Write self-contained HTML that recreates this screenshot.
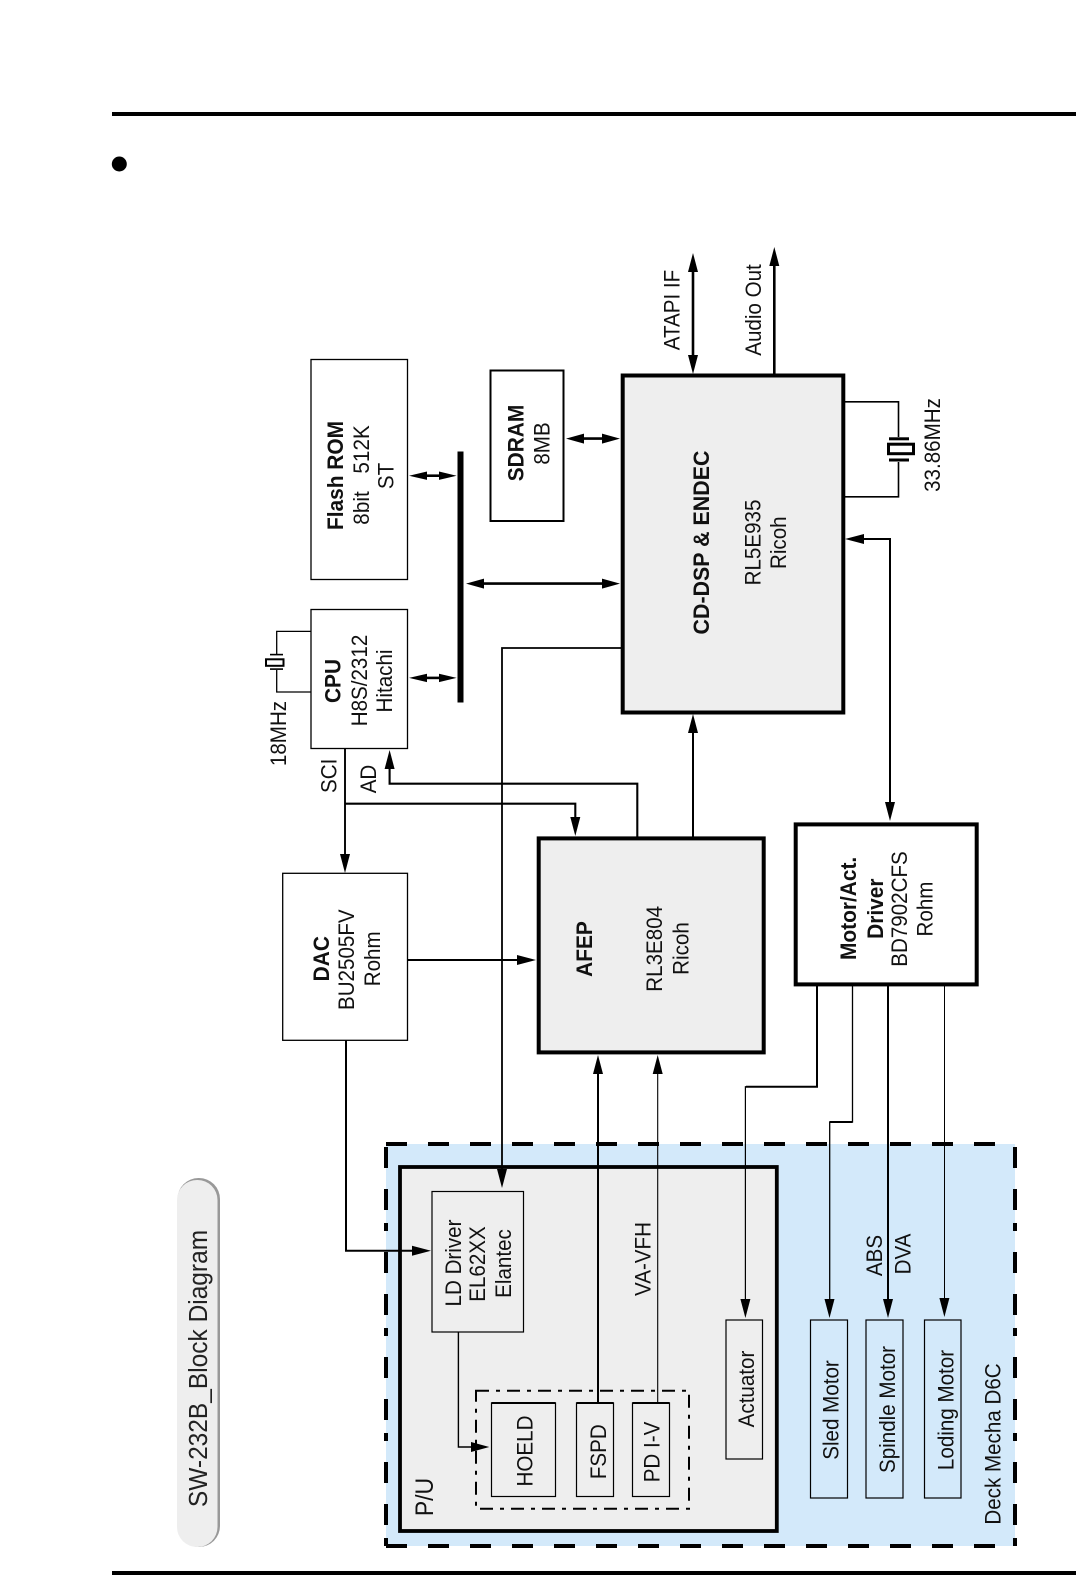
<!DOCTYPE html>
<html><head><meta charset="utf-8"><style>
html,body{margin:0;padding:0;background:#fff;width:1076px;height:1575px;overflow:hidden}
svg{display:block}
text{font-family:"Liberation Sans",sans-serif;font-size:20.6px;fill:#111;text-anchor:middle}
.b{font-weight:bold;font-size:20.9px}
</style></head><body>
<svg width="1076" height="1575" viewBox="0 0 1076 1575" xmlns="http://www.w3.org/2000/svg">
<rect x="112" y="112" width="964" height="4" fill="#000"/>
<rect x="112" y="1571" width="964" height="4" fill="#000"/>
<circle cx="119.3" cy="164" r="7.5" fill="#000"/>

<!-- title pill -->
<rect x="177.5" y="1178" width="42.5" height="369" rx="21" fill="#999"/>
<rect x="177" y="1180" width="40.5" height="367" rx="20" fill="#eee"/>
<text transform="translate(207,1368.5) rotate(-90) scale(1,1.06)" style="font-size:24.5px;fill:#222">SW-232B_Block Diagram</text>

<!-- deck mecha -->
<rect x="386" y="1144" width="629" height="402" fill="#d3e9fa"/>
<g fill="none" stroke="#000" stroke-width="4">
<path d="M386 1546H1015" stroke-dasharray="21 21"/>
<path d="M386 1144H1015" stroke-dasharray="21 21"/>
<path d="M386 1546V1144" stroke-dasharray="8 13 21 21 21 21"/>
<path d="M1015 1546V1144" stroke-dasharray="8 13 21 21 21 21"/>
</g>
<!-- P/U -->
<rect x="400" y="1167" width="376.8" height="364" fill="#eee" stroke="#000" stroke-width="3.8"/>
<path d="M476 1390.7H689V1508.7H476Z" fill="none" stroke="#000" stroke-width="2" stroke-dasharray="13 7 4 7"/>

<!-- boxes -->
<g stroke="#000" stroke-width="1.3" fill="#fff">
<rect x="311" y="359.5" width="96.5" height="220"/>
<rect x="311" y="609.5" width="96.5" height="139"/>
<rect x="282.7" y="873.3" width="124.8" height="167"/>
</g>
<rect x="490.5" y="370.5" width="73" height="150.5" fill="#fff" stroke="#000" stroke-width="2"/>
<rect x="622.7" y="375.5" width="220.6" height="337" fill="#eee" stroke="#000" stroke-width="4"/>
<rect x="538.7" y="838.4" width="225" height="214" fill="#eee" stroke="#000" stroke-width="4"/>
<rect x="795.7" y="824.4" width="181" height="160" fill="#fff" stroke="#000" stroke-width="4"/>
<g stroke="#000" stroke-width="1.2" fill="#eee">
<rect x="432" y="1191.5" width="91.5" height="140.5"/>
<rect x="491.5" y="1403" width="64" height="93.5"/>
<rect x="576.5" y="1403" width="37" height="93.5"/>
<rect x="632.5" y="1403" width="37" height="93.5"/>
<rect x="726" y="1320" width="36.5" height="139"/>
</g>
<g stroke="#000" stroke-width="1.2" fill="#d3e9fa">
<rect x="810.5" y="1320" width="37" height="178"/>
<rect x="866" y="1320" width="37" height="178"/>
<rect x="924.5" y="1320" width="36.5" height="178"/>
</g>
<path d="M491.5 1403H555.5M576.5 1403H613.5M632.5 1403H669.5" stroke="#000" stroke-width="2" fill="none"/>

<!-- bus -->
<rect x="457.5" y="451.5" width="6" height="251" fill="#000"/>

<!-- connectors -->
<g fill="none" stroke="#000">
<path d="M693 262V366" stroke-width="2.6"/>
<path d="M774.3 262V374" stroke-width="2.6"/>
<path d="M845 401.8H898.5V437M898.5 462V496.8H845" stroke-width="1.6"/>
<path d="M584 438.6H602" stroke-width="2.6"/>
<path d="M426 475.7H440" stroke-width="2.6"/>
<path d="M426 677.9H440" stroke-width="2.6"/>
<path d="M484 583.6H603" stroke-width="2.6"/>
<path d="M890 557V539H860" stroke-width="2"/>
<path d="M890 539V805" stroke-width="2"/>
<path d="M621 648H502V1172" stroke-width="1.8"/>
<path d="M311 631.4H276.7V654M276.7 670V692H311" stroke-width="1.3"/>
<path d="M345 748V858" stroke-width="1.9"/>
<path d="M345 803.7H575.3V822" stroke-width="2.1"/>
<path d="M637.3 837V783.7H389.6V765" stroke-width="2.1"/>
<path d="M693 837V730" stroke-width="2"/>
<path d="M407.5 960H522" stroke-width="2.1"/>
<path d="M346 1040V1250.7H415" stroke-width="2"/>
<path d="M598 1403V1072" stroke-width="2"/>
<path d="M657.7 1403V1072" stroke-width="1.1"/>
<path d="M817 985V1086.7H745.4V1302" stroke-width="1.2"/>
<path d="M817 985V1086.7H746" stroke-width="2"/>
<path d="M852.5 985V1122H829.7V1302" stroke-width="1.3"/>
<path d="M852.5 1122H829.7" stroke-width="2"/>
<path d="M888 985V1302" stroke-width="2"/>
<path d="M944.5 985V1302" stroke-width="1"/>
<path d="M458.4 1332V1447H473" stroke-width="1.4"/>
</g>

<!-- arrowheads -->
<g fill="#000">
<polygon points="693,253 688,272 698,272"/><polygon points="693,374 688,355 698,355"/>
<polygon points="774.3,247 769.3,266 779.3,266"/>
<polygon points="566,438.6 584,433.6 584,443.6"/><polygon points="620,438.6 602,433.6 602,443.6"/>
<polygon points="409,475.7 427,471.5 427,479.9"/><polygon points="456.6,475.7 439,471.5 439,479.9"/>
<polygon points="409,677.9 427,673.7 427,682.1"/><polygon points="456.6,677.9 439,673.7 439,682.1"/>
<polygon points="466,583.6 484,578.6 484,588.6"/><polygon points="620,583.6 602,578.6 602,588.6"/>
<polygon points="845,539 864,534 864,544"/>
<polygon points="890,821 885,802 895,802"/>
<polygon points="502,1188 497,1169 507,1169"/>
<polygon points="345,873 340,854 350,854"/>
<polygon points="575.3,836 570.3,817 580.3,817"/>
<polygon points="389.6,750 384.6,769 394.6,769"/>
<polygon points="693,714 688,733 698,733"/>
<polygon points="536,960 517,955 517,965"/>
<polygon points="431,1250.7 412,1245.7 412,1255.7"/>
<polygon points="598,1055 593,1074 603,1074"/>
<polygon points="657.7,1055 652.7,1074 662.7,1074"/>
<polygon points="745.4,1318 740.4,1299 750.4,1299"/>
<polygon points="829.5,1318 824.5,1299 834.5,1299"/>
<polygon points="888,1318 883,1299 893,1299"/>
<polygon points="944.4,1317 939.4,1298 949.4,1298"/>
<polygon points="489.3,1447 471,1442 471,1452"/>
</g>

<!-- crystals -->
<g fill="#000">
<rect x="889" y="437.3" width="20" height="3"/><rect x="889" y="458.5" width="20" height="3"/>
<rect x="270" y="653.8" width="13" height="1.6"/><rect x="270" y="668.3" width="13" height="1.6"/>
</g>
<rect x="888.5" y="444.2" width="25" height="9.5" fill="#fff" stroke="#000" stroke-width="3"/>
<rect x="266" y="659.3" width="17.5" height="6.5" fill="#fff" stroke="#000" stroke-width="2"/>

<!-- labels -->
<text class="b" transform="translate(343.2,475.5) rotate(-90) scale(1,1.05)">Flash ROM</text>
<text transform="translate(369.2,475) rotate(-90) scale(1,1.08)" textLength="99.5" lengthAdjust="spacing">8bit&#160;&#160;&#160;512K</text>
<text transform="translate(393.7,476) rotate(-90) scale(1,1.08)">ST</text>
<text class="b" transform="translate(523.4,443) rotate(-90) scale(1,1.05)">SDRAM</text>
<text transform="translate(549.4,443.5) rotate(-90) scale(1,1.08)">8MB</text>
<text class="b" style="font-size:21.4px" transform="translate(709.2,542.5) rotate(-90) scale(1,1.05)">CD-DSP &amp; ENDEC</text>
<text transform="translate(760.6,542.5) rotate(-90) scale(1,1.08)">RL5E935</text>
<text transform="translate(786,542.7) rotate(-90) scale(1,1.08)">Ricoh</text>
<text transform="translate(679.3,310) rotate(-90) scale(1,1.08)">ATAPI IF</text>
<text transform="translate(761,310) rotate(-90) scale(1,1.08)">Audio Out</text>
<text transform="translate(940,445) rotate(-90) scale(1,1.08)">33.86MHz</text>
<text transform="translate(285.8,733.5) rotate(-90) scale(1,1.08)">18MHz</text>
<text class="b" transform="translate(340.7,681) rotate(-90) scale(1,1.05)">CPU</text>
<text transform="translate(367,680.5) rotate(-90) scale(1,1.08)">H8S/2312</text>
<text transform="translate(392,681) rotate(-90) scale(1,1.08)">Hitachi</text>
<text transform="translate(336.3,775.8) rotate(-90) scale(1,1.08)">SCI</text>
<text transform="translate(376,779) rotate(-90) scale(1,1.08)">AD</text>
<text class="b" transform="translate(329.2,958.7) rotate(-90) scale(1,1.05)">DAC</text>
<text transform="translate(354.2,959.7) rotate(-90) scale(1,1.08)">BU2505FV</text>
<text transform="translate(380,958.8) rotate(-90) scale(1,1.08)">Rohm</text>
<text class="b" transform="translate(591.9,949) rotate(-90) scale(1,1.05)">AFEP</text>
<text transform="translate(662,948.8) rotate(-90) scale(1,1.08)">RL3E804</text>
<text transform="translate(688.7,948.5) rotate(-90) scale(1,1.08)">Ricoh</text>
<text class="b" transform="translate(856.2,908.4) rotate(-90) scale(1,1.05)">Motor/Act.</text>
<text class="b" transform="translate(882.8,908.7) rotate(-90) scale(1,1.05)">Driver</text>
<text transform="translate(907,909) rotate(-90) scale(1,1.08)">BD7902CFS</text>
<text transform="translate(932.5,909) rotate(-90) scale(1,1.08)">Rohm</text>
<text transform="translate(461.2,1263) rotate(-90) scale(1,1.08)">LD Driver</text>
<text transform="translate(485.2,1264) rotate(-90) scale(1,1.08)">EL62XX</text>
<text transform="translate(511,1263.5) rotate(-90) scale(1,1.08)">Elantec</text>
<text transform="translate(650.5,1259) rotate(-90) scale(1,1.08)">VA-VFH</text>
<text transform="translate(882,1255.5) rotate(-90) scale(1,1.08)">ABS</text>
<text transform="translate(910.5,1254) rotate(-90) scale(1,1.08)">DVA</text>
<text style="font-size:23px" transform="translate(433,1497) rotate(-90) scale(1,1.08)">P/U</text>
<text transform="translate(532.5,1451) rotate(-90) scale(1,1.08)">HOELD</text>
<text transform="translate(606,1451.7) rotate(-90) scale(1,1.08)">FSPD</text>
<text transform="translate(659.5,1452) rotate(-90) scale(1,1.08)">PD I-V</text>
<text transform="translate(754,1389) rotate(-90) scale(1,1.08)">Actuator</text>
<text transform="translate(838.5,1410) rotate(-90) scale(1,1.08)">Sled Motor</text>
<text transform="translate(895,1409.5) rotate(-90) scale(1,1.08)">Spindle Motor</text>
<text transform="translate(953.5,1410) rotate(-90) scale(1,1.08)">Loding Motor</text>
<text transform="translate(1000.5,1444) rotate(-90) scale(1,1.08)">Deck Mecha D6C</text>
</svg>
</body></html>
